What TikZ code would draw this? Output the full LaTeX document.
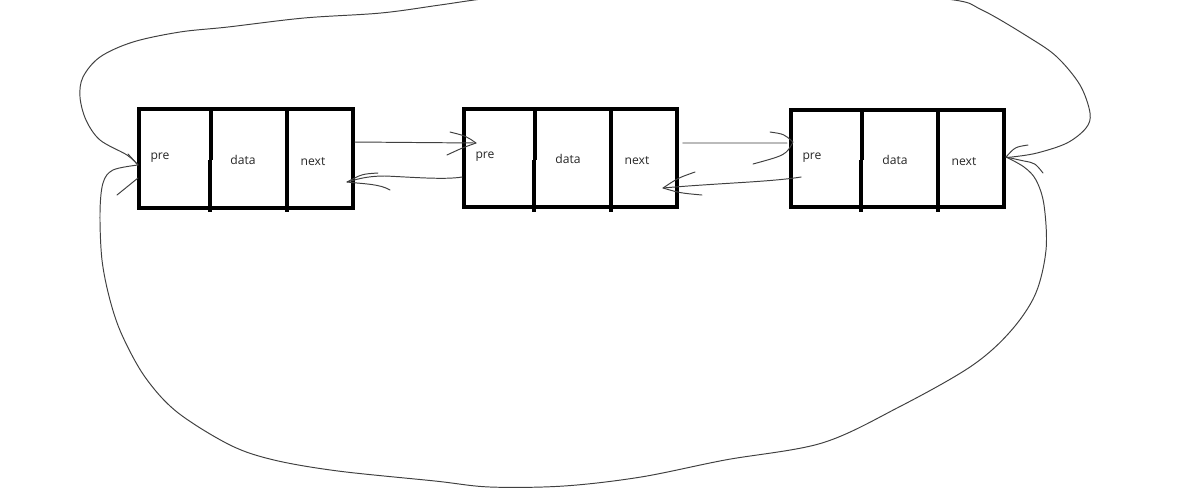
\documentclass[tikz,border=0pt]{standalone}
\usepackage{fontspec}
\setmainfont{Open Sans}
\begin{document}
\begin{tikzpicture}[x=0.02cm,y=-0.02cm,
  box/.style={draw=black, line width=2.2pt, inner sep=0pt},
  divider/.style={draw=black, line width=2pt},
  lbl/.style={font=\fontsize{6.9}{8}\selectfont, text=black!85, inner sep=0pt},
  link/.style={draw=black!75, line width=0.55pt, line cap=round, line join=round}]
\useasboundingbox (0,0) rectangle (1179,488);
\clip (0,0) rectangle (1179,488);
\fill[white] (0,0) rectangle (1179,488);

% boxes
\node[box, minimum width=4.28cm, minimum height=1.98cm] (b1) at (246,158.5) {};
\node[box, minimum width=4.26cm, minimum height=1.96cm] (b2) at (570.5,158) {};
\node[box, minimum width=4.26cm, minimum height=1.94cm] (b3) at (897.5,158.5) {};

% dividers
\draw[divider] (211,109) -- (211,160) (210,160) -- (210,212);
\draw[divider] (287,109) -- (287,212);
\draw[divider] (535,109) -- (535,160) (534,160) -- (534,212);
\draw[divider] (611,109) -- (611,212);
\draw[divider] (862,110) -- (862,160) (861,160) -- (861,212);
\draw[divider] (938,110) -- (938,212);

% labels
\node[lbl] (p1) at (160,158) {pre};
\node[lbl] (d1) at (243,160) {data};
\node[lbl] (n1) at (313,162) {next};
\node[lbl] (p2) at (485,157) {pre};
\node[lbl] (d2) at (568,159) {data};
\node[lbl] (n2) at (637,161) {next};
\node[lbl] (p3) at (812,158) {pre};
\node[lbl] (d3) at (895,160) {data};
\node[lbl] (n3) at (964,162) {next};

% tips
\coordinate (t1) at (476,143);
\coordinate (t2) at (347,182);
\coordinate (t3) at (793,142);
\coordinate (t4) at (663,188);
\coordinate (L1) at (138,165);
\coordinate (L3) at (1006,157);

% box1 next -> box2 pre
\draw[link] ([yshift=0.33cm]b1.east) -- (t1);
\draw[link] (450,132) .. controls (466,136) .. (t1) .. controls (462,148) .. (447,155);

% box2 pre -> box1 next
\draw[link] ([yshift=-0.38cm]b2.west) .. controls (445,180) and (410,177) .. (385,176)
  .. controls (365,176) and (355,180) .. (t2);
\draw[link] (378,173) .. controls (362,174) .. (t2) .. controls (365,184) and (380,184) .. (390,190);

% box2 next -> box3 pre
\draw[link] ([xshift=0.08cm,yshift=0.3cm]b2.east) -- (787,143);
\draw[link] (770,132) .. controls (784,134) .. (t3) .. controls (786,155) .. (753,164);

% box3 pre -> box2 next
\draw[link] ([xshift=0.24cm,yshift=-0.37cm]b3.west) .. controls (770,182) and (720,183) .. (t4);
\draw[link] (695,172) .. controls (678,178) .. (t4) .. controls (680,193) .. (702,195);

% big loop, upper half
\draw[link] plot[smooth, tension=0.55] coordinates {(L1) (127,155) (100,140) (86,120) (80,97) (83,77)
  (100,57) (133,42) (180,32) (228,27) (304,18) (381,13) (440,5) (490,-2) (600,-14) (800,-14)
  (947,-1) (982,10) (1030,38) (1057,57) (1080,85) (1090,113) (1086,128) (1067,143) (1037,153) (1012,157) (L3)};
% big loop, lower half
\draw[link] plot[smooth, tension=0.55] coordinates {(L1) (113,170) (103,183) (100,213) (102,260)
  (110,300) (122,335) (145,377) (177,412) (230,445) (274,460) (338,471) (435,481) (490,487)
  (564,486) (641,477) (725,460) (822,443) (899,407) (970,367) (1009,333) (1035,295) (1046,250)
  (1044,205) (1036,180) (1024,167) (L3)};

% barbs of the loop
\draw[link] (128,154) -- (L1);
\draw[link] (117,195) -- (138,178);
\draw[link] (1028,145) .. controls (1015,147) .. (L3);
\draw[link] (1043,173) .. controls (1035,163) .. (1024,161) -- (L3);
\end{tikzpicture}
\end{document}
